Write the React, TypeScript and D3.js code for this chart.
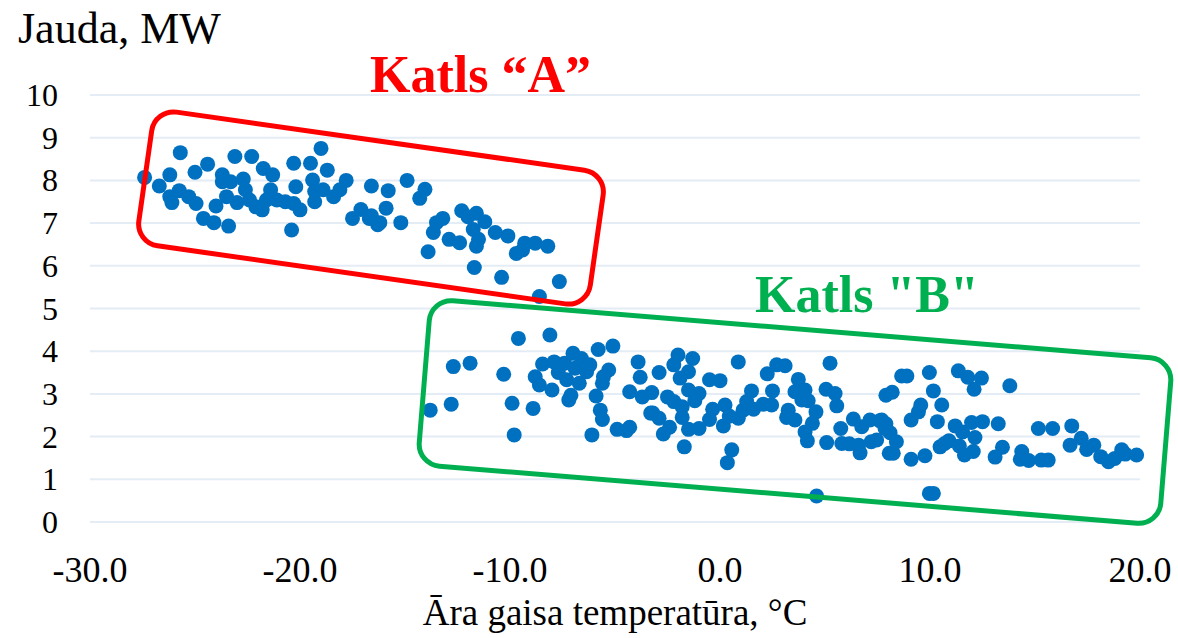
import React, { useEffect, useRef } from 'react'
import * as d3 from 'd3'

// Katls "A" (cold weather)
const tempA = [
  -27.4, -26.7, -26.2, -25.7, -25.75, -26.2, -26.1, -25.3, -24.95, -25.0, -24.4, -24.6, -24.1, -23.4,
  -24.0, -23.5, -23.7, -23.7, -23.3, -23.1, -22.3, -22.7, -22.6, -23.0, -22.4, -22.1, -21.8, -21.75,
  -21.3, -21.4, -21.6, -21.1, -20.7, -20.3, -20.0, -20.3, -20.2, -20.4, -19.5, -19.0, -19.4, -19.3,
  -19.3, -18.9, -18.7, -18.4, -18.1, -17.8, -17.5, -17.1, -16.7, -16.6, -16.3, -15.8, -14.9, -14.05,
  -14.3, -15.9, -16.6, -16.2, -15.2, -13.5, -13.2, -13.65, -12.9, -12.4, -13.9, -12.3, -12.0, -11.6,
  -11.2, -11.75, -11.5, -11.6, -10.7, -10.1, -9.7, -9.3, -8.8, -8.2, -9.4, -11.7, -10.4, -7.65, -8.6,
]
const powerA = [
  8.07, 7.87, 8.13, 8.65, 7.76, 7.62, 7.48, 7.62, 7.46, 8.19, 8.38, 7.11, 7.01, 6.93,
  7.4, 7.62, 8.13, 7.97, 7.97, 8.56, 8.56, 8.03, 7.78, 7.48, 7.54, 7.38, 7.31, 8.28,
  8.13, 7.78, 7.54, 7.54, 7.5, 7.46, 7.31, 8.4, 7.85, 6.84, 8.4, 8.75, 8.01, 7.74,
  7.5, 7.78, 8.24, 7.62, 7.78, 8.0, 7.11, 7.32, 7.11, 7.87, 6.96, 7.76, 8.0, 7.79,
  7.58, 7.35, 7.17, 7.01, 7.01, 7.01, 7.11, 6.78, 6.62, 6.54, 6.33, 7.29, 7.15, 7.23,
  7.03, 6.85, 6.62, 6.46, 6.78, 6.7, 6.29, 6.53, 6.53, 6.46, 6.37, 5.96, 5.73, 5.63, 5.28,
]

// Katls "B" (mild weather)
const tempB = [
  -13.8, -12.8, -12.7, -11.9, -10.3, -9.9, -9.8, -8.9, -9.6, -8.1, -8.8, -8.45, -7.9, -8.6,
  -8.0, -7.7, -7.4, -7.3, -7.0, -6.9, -6.6, -6.7, -7.1, -7.2, -6.2, -6.35, -5.8, -5.1,
  -5.3, -5.55, -5.6, -5.9, -5.7, -5.6, -6.1, -4.9, -4.3, -4.45, -3.9, -4.3, -3.8, -3.7,
  -3.3, -2.9, -2.2, -2.0, -1.3, -1.5, -1.9, -1.5, -3.25, -2.5, -2.2, -1.8, -1.0, -1.2,
  -3.2, -2.9, -1.8, -2.4, -2.7, -1.5, -1.0, -1.7, -0.5, 0.0, -0.35, -0.5, 0.24, 0.16,
  0.44, 0.56, 0.35, 0.87, 0.87, 1.1, 1.27, 1.5, 1.6, 2.06, 2.46, 2.25, 2.5, 2.7,
  3.1, 3.25, 3.17, 3.57, 3.73, 3.57, 4.05, 3.9, 4.2, 4.57, 4.4, 4.05, 4.16, 5.08,
  5.24, 5.05, 5.48, 5.56, 5.75, 5.8, 6.16, 6.35, 6.6, 6.67, 6.75, 7.14, 7.2, 7.46,
  7.6, 7.9, 7.9, 8.06, 4.6, 8.65, 8.9, 9.97, 11.35, 11.8, 12.45, 12.1, 13.8, 8.2,
  10.16, 9.56, 9.45, 10.56, 9.1, 10.35, 7.7, 7.86, 8.1, 8.4, 8.25, 9.1, 9.76, 10.48,
  10.7, 10.9, 11.2, 11.55, 11.98, 12.5, 13.25, 12.14, 11.4, 11.64, 12.06, 13.45, 13.1, 14.37,
  14.3, 14.7, 15.3, 15.63, 15.16, 15.84, 16.75, 16.67, 17.2, 17.46, 17.8, 18.13, 18.5, 18.8,
  19.13, 19.3, 19.84, 9.97, 10.16,
]
const powerB = [
  2.62, 2.76, 3.64, 3.72, 3.46, 2.78, 2.04, 2.66, 4.3, 4.38, 3.4, 3.7, 3.75, 3.21,
  3.09, 3.5, 3.72, 3.33, 3.95, 3.6, 3.83, 3.25, 2.97, 2.86, 3.68, 3.52, 4.04, 4.12,
  3.56, 3.4, 3.25, 2.95, 2.62, 2.4, 2.04, 2.17, 2.22, 2.14, 3.75, 3.05, 3.39, 2.93,
  2.55, 3.5, 3.68, 3.91, 3.83, 3.52, 3.37, 3.09, 3.03, 2.93, 2.82, 2.7, 3.01, 2.84,
  2.55, 2.43, 2.45, 2.22, 2.06, 2.17, 2.19, 1.76, 3.33, 3.31, 2.64, 2.4, 2.74, 2.25,
  2.48, 1.69, 1.39, 3.75, 2.43, 2.62, 2.82, 3.07, 2.64, 2.76, 2.74, 3.47, 3.07, 3.68,
  3.66, 2.62, 2.45, 2.39, 3.34, 3.05, 3.09, 2.86, 2.84, 2.58, 2.31, 2.11, 1.9, 1.86,
  3.72, 3.11, 3.01, 2.72, 2.19, 1.84, 1.83, 2.41, 1.8, 1.62, 2.23, 2.39, 1.88, 1.92,
  2.37, 2.97, 2.3, 1.61, 0.61, 3.42, 3.42, 3.5, 3.54, 3.39, 3.37, 3.11, 3.19, 3.04,
  3.07, 2.74, 2.58, 2.74, 2.39, 2.35, 2.39, 2.19, 2.09, 1.88, 1.61, 1.47, 1.55, 1.76,
  1.84, 1.9, 2.25, 2.11, 2.33, 2.35, 2.3, 1.98, 1.78, 1.57, 1.65, 1.75, 1.52, 1.65,
  1.47, 1.44, 1.45, 1.45, 2.19, 2.19, 2.25, 1.8, 1.96, 1.7, 1.8, 1.53, 1.41, 1.49,
  1.69, 1.59, 1.57, 0.67, 0.67,
]

const yTicks = [0, 1, 2, 3, 4, 5, 6, 7, 8, 9, 10]
const xTicks = [-30, -20, -10, 0, 10, 20]

const W = 1178
const H = 638
const FONT = "'Liberation Serif', 'Times New Roman', serif"

const App = () => {
  const svgRef = useRef()

  useEffect(() => {
    const svg = d3.select(svgRef.current)
    svg.selectAll('*').remove()

    const margin = { top: 95, right: 38, bottom: 116, left: 90 }
    const x = d3.scaleLinear().domain([-30, 20]).range([margin.left, W - margin.right])
    const y = d3.scaleLinear().domain([0, 10]).range([H - margin.bottom, margin.top])

    // gridlines
    svg
      .append('g')
      .selectAll('line')
      .data(yTicks)
      .enter()
      .append('line')
      .attr('x1', x(-30))
      .attr('x2', x(20))
      .attr('y1', (d) => y(d))
      .attr('y2', (d) => y(d))
      .attr('stroke', '#e4ecf5')
      .attr('stroke-width', 2)

    // y tick labels
    svg
      .append('g')
      .selectAll('text')
      .data(yTicks)
      .enter()
      .append('text')
      .attr('x', 58)
      .attr('y', (d) => y(d) + 11)
      .attr('text-anchor', 'end')
      .attr('font-family', FONT)
      .attr('font-size', 32)
      .attr('fill', '#000')
      .text((d) => d)

    // x tick labels (plain hyphen, like the original)
    svg
      .append('g')
      .selectAll('text')
      .data(xTicks)
      .enter()
      .append('text')
      .attr('x', (d) => x(d))
      .attr('y', 582)
      .attr('text-anchor', 'middle')
      .attr('font-family', FONT)
      .attr('font-size', 36)
      .attr('fill', '#000')
      .text((d) => d.toFixed(1))

    // axis titles
    svg
      .append('text')
      .attr('x', 18)
      .attr('y', 43)
      .attr('font-family', FONT)
      .attr('font-size', 44)
      .text('Jauda, MW')

    svg
      .append('text')
      .attr('x', (x(-30) + x(20)) / 2)
      .attr('y', 625)
      .attr('text-anchor', 'middle')
      .attr('font-family', FONT)
      .attr('font-size', 37)
      .text('Āra gaisa temperatūra, °C')

    // points
    const pts = [
      ...tempA.map((t, i) => ({ t, p: powerA[i] })),
      ...tempB.map((t, i) => ({ t, p: powerB[i] })),
    ]
    svg
      .append('g')
      .selectAll('circle')
      .data(pts)
      .enter()
      .append('circle')
      .attr('cx', (d) => x(d.t))
      .attr('cy', (d) => y(d.p))
      .attr('r', 7.5)
      .attr('fill', '#0070c0')

    // boiler outlines (rotated rounded rects)
    const boxes = [
      { cx: 371, cy: 208, w: 456, h: 135, angle: 8.1, color: '#ff0000' },
      { cx: 795, cy: 412, w: 744, h: 166, angle: 4.68, color: '#00b050' },
    ]
    svg
      .append('g')
      .selectAll('rect')
      .data(boxes)
      .enter()
      .append('rect')
      .attr('x', (d) => -d.w / 2)
      .attr('y', (d) => -d.h / 2)
      .attr('width', (d) => d.w)
      .attr('height', (d) => d.h)
      .attr('rx', 22)
      .attr('fill', 'none')
      .attr('stroke', (d) => d.color)
      .attr('stroke-width', 5)
      .attr('transform', (d) => `translate(${d.cx},${d.cy}) rotate(${d.angle})`)

    svg
      .append('text')
      .attr('x', 370)
      .attr('y', 92)
      .attr('font-family', FONT)
      .attr('font-weight', 'bold')
      .attr('font-size', 52)
      .attr('fill', '#ff0000')
      .text('Katls \u201CA\u201D')

    svg
      .append('text')
      .attr('x', 755)
      .attr('y', 312)
      .attr('font-family', FONT)
      .attr('font-weight', 'bold')
      .attr('font-size', 52)
      .attr('fill', '#00b050')
      .text('Katls "B"')
  }, [])

  return (
    <svg
      ref={svgRef}
      width={W}
      height={H}
      style={{ position: 'absolute', left: 0, top: 0, background: '#fff' }}
    ></svg>
  )
}

export default App
